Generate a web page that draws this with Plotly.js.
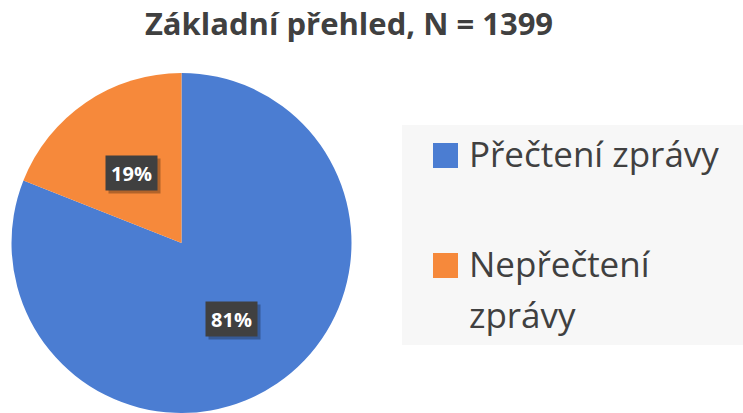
<!DOCTYPE html>
<html>
<head>
<meta charset="utf-8">
<script src="https://cdn.plot.ly/plotly-3.0.1.min.js"></script>
<style>html,body{margin:0;padding:0;background:#fff;}#chart{width:743px;height:413px;}</style>
</head>
<body>
<div id="chart"></div>
<script>
// ---- data ----
const titleText = "Základní přehled, N = 1399";
const labels = ["Přečtení zprávy", "Nepřečtení zprávy"];
const values = [81, 19];
const colors = ["#4b7dd2", "#f6893b"];
const legendLines = [["Přečtení zprávy"], ["Nepřečtení", "zprávy"]];

// ---- layout geometry ----
const W = 743, H = 413;
const dom = {x: [10.5 / W, 352.5 / W], y: [0, 1 - 73 / H]};
const textColor = "#404040";
const fontFam = "'Open Sans', 'Noto Sans', sans-serif";

// pie geometry (pixels) for label placement
const pw = (dom.x[1] - dom.x[0]) * W, ph = (dom.y[1] - dom.y[0]) * H;
const R = Math.min(pw, ph) / 2;
const cx = (dom.x[0] + dom.x[1]) / 2 * W;
const cy = (1 - (dom.y[0] + dom.y[1]) / 2) * H;
const total = values.reduce((a, b) => a + b, 0);

const annotations = [];
let cum = 0;
values.forEach((v, i) => {
  const th = 2 * Math.PI * (cum + v / 2) / total;
  cum += v;
  const px = cx + 0.52 * R * Math.sin(th);
  const py = cy - 0.52 * R * Math.cos(th) + 3;
  const pct = Math.round(v / total * 100) + "%";
  const base = {
    x: px / W, y: 1 - py / H, xref: "paper", yref: "paper",
    xanchor: "center", yanchor: "middle",
    showarrow: false, borderpad: 4, width: 43, height: 26
  };
  // drop shadow box (no text)
  annotations.push(Object.assign({}, base, {
    text: " ", bgcolor: "rgba(0,0,0,0.28)", xshift: 3, yshift: -3,
    font: {family: fontFam, size: 20, color: "rgba(0,0,0,0)"}
  }));
  annotations.push(Object.assign({}, base, {
    text: "<b>" + pct + "</b>", bgcolor: "#404040",
    font: {family: fontFam, size: 20, color: "#ffffff"}
  }));
});

// custom legend
const shapes = [{
  type: "rect", xref: "paper", yref: "paper",
  x0: 402 / W, x1: 1, y0: 1 - 345 / H, y1: 1 - 125 / H,
  fillcolor: "#f7f7f7", line: {width: 0}, layer: "below"
}];
const legendTop = [143, 253];
const lineGap = 51;
labels.forEach((lab, i) => {
  const t = legendTop[i];
  shapes.push({
    type: "rect", xref: "paper", yref: "paper",
    x0: 433 / W, x1: 458 / W, y0: 1 - (t + 25) / H, y1: 1 - t / H,
    fillcolor: colors[i], line: {width: 0}
  });
  legendLines[i].forEach((ln, j) => {
    annotations.push({
      text: ln, xref: "paper", yref: "paper",
      x: 467 / W, y: 1 - (t + 10 + j * lineGap) / H,
      xanchor: "left", yanchor: "middle", showarrow: false,
      font: {family: fontFam, size: 35, color: textColor}
    });
  });
});

const data = [{
  type: "pie",
  labels: labels,
  values: values,
  marker: {colors: colors, line: {width: 0}},
  sort: false,
  direction: "clockwise",
  rotation: 0,
  textinfo: "none",
  hoverinfo: "label+percent",
  showlegend: false,
  domain: dom
}];

const layout = {
  width: W, height: H,
  margin: {l: 0, r: 0, t: 0, b: 0},
  paper_bgcolor: "#ffffff",
  showlegend: false,
  title: {
    text: "<b>" + titleText + "</b>",
    x: 349 / W, xanchor: "center", xref: "paper",
    y: 1 - 24 / H, yanchor: "middle", yref: "container",
    font: {family: fontFam, size: 31, color: textColor}
  },
  shapes: shapes,
  annotations: annotations
};

Plotly.newPlot("chart", data, layout, {displayModeBar: false, staticPlot: true});
</script>
</body>
</html>
